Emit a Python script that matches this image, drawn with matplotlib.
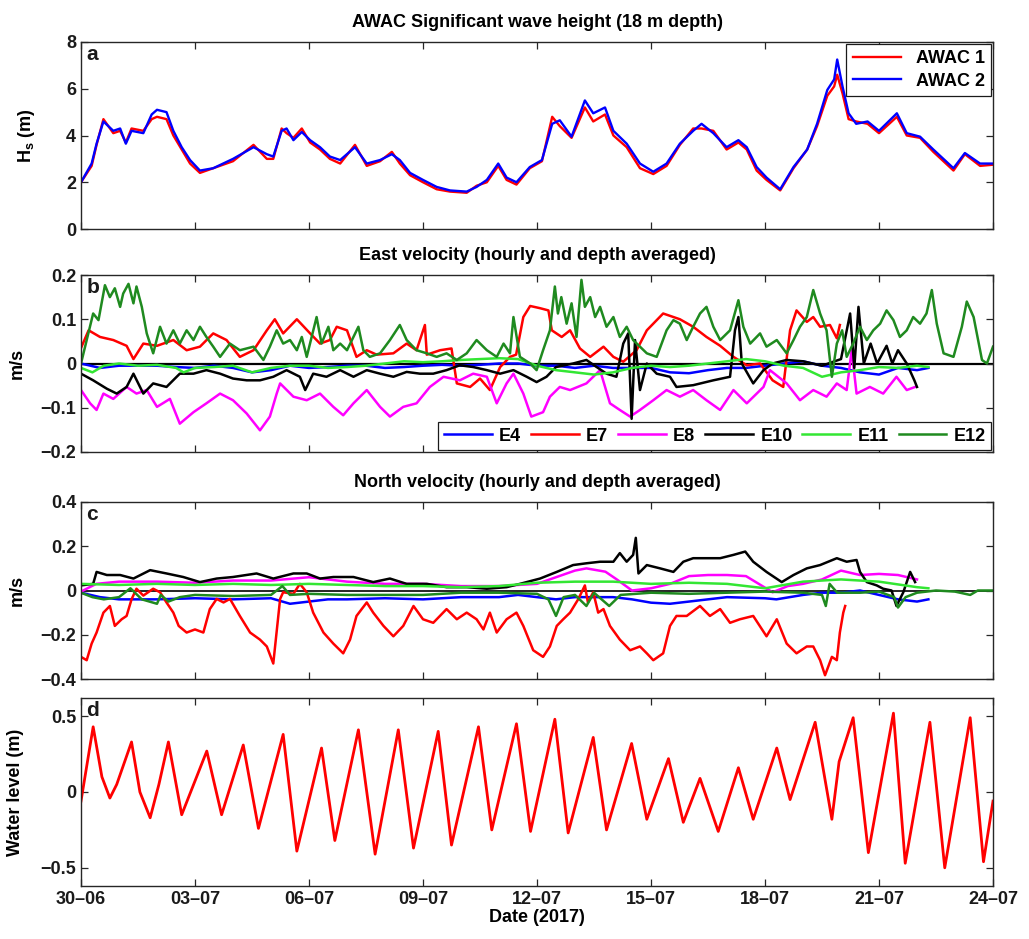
import matplotlib
matplotlib.use("Agg")
import matplotlib.pyplot as plt
from matplotlib.ticker import FixedLocator, FuncFormatter

plt.rcParams['font.family'] = ['Liberation Sans', 'DejaVu Sans']
plt.rcParams['font.weight'] = 'bold'
plt.rcParams['axes.labelweight'] = 'bold'
plt.rcParams['axes.titleweight'] = 'bold'
plt.rcParams['mathtext.fontset'] = 'custom'
plt.rcParams['mathtext.bf'] = 'Liberation Sans:bold'
plt.rcParams['mathtext.rm'] = 'Liberation Sans:bold'
plt.rcParams['mathtext.it'] = 'Liberation Sans:bold'

# ---------------- data (days since 30-06-2017) ----------------
date_ticks = [0, 3, 6, 9, 12, 15, 18, 21, 24]
date_labels = ['30–06', '03–07', '06–07', '09–07', '12–07', '15–07', '18–07', '21–07', '24–07']

# Panel a: significant wave height
t_hs = [0, 0.28, 0.41, 0.59, 0.85, 1.03, 1.18, 1.33, 1.64, 1.86, 2.0, 2.25, 2.43, 2.65, 2.87, 3.13, 3.48, 4.0,
        4.54, 4.89, 5.06, 5.28, 5.41, 5.59, 5.81, 6.03, 6.29, 6.55, 6.82, 7.21, 7.52, 7.87, 8.18, 8.39, 8.66,
        9.0, 9.36, 9.71, 10.15, 10.41, 10.68, 10.98, 11.2, 11.46, 11.81, 12.13, 12.4, 12.6, 12.91, 13.26,
        13.48, 13.79, 14.01, 14.36, 14.71, 15.06, 15.41, 15.76, 16.11, 16.33, 16.64, 16.99, 17.3, 17.52,
        17.78, 18.04, 18.4, 18.75, 19.11, 19.37, 19.64, 19.82, 19.9, 20.04, 20.2, 20.4, 20.7, 21.0, 21.47,
        21.73, 22.08, 22.43, 22.96, 23.26, 23.66, 24.0]
hs_awac2 = [2.0, 2.8, 3.65, 4.6, 4.2, 4.3, 3.65, 4.2, 4.1, 4.9, 5.1, 5.0, 4.2, 3.5, 2.95, 2.5, 2.6, 3.0, 3.5, 3.2,
            3.1, 4.2, 4.3, 3.8, 4.15, 3.8, 3.5, 3.1, 2.95, 3.5, 2.8, 2.95, 3.2, 2.95, 2.4, 2.1, 1.8, 1.65, 1.6,
            1.8, 2.1, 2.8, 2.2, 2.0, 2.65, 2.95, 4.5, 4.65, 3.95, 5.5, 4.95, 5.2, 4.2, 3.65, 2.8, 2.45, 2.8,
            3.65, 4.2, 4.5, 4.1, 3.5, 3.8, 3.5, 2.65, 2.2, 1.7, 2.65, 3.4, 4.5, 5.95, 6.4, 7.25, 6.1, 4.95,
            4.5, 4.6, 4.2, 4.95, 4.1, 3.95, 3.4, 2.6, 3.25, 2.8, 2.8]
hs_awac1 = [2.0, 2.7, 3.6, 4.7, 4.1, 4.2, 3.7, 4.3, 4.2, 4.7, 4.8, 4.7, 4.0, 3.4, 2.8, 2.4, 2.6, 2.9, 3.6, 3.0,
            3.0, 4.3, 4.1, 3.9, 4.3, 3.7, 3.4, 3.0, 2.8, 3.6, 2.7, 2.9, 3.3, 2.8, 2.3, 2.0, 1.7, 1.6, 1.55, 1.85,
            2.0, 2.7, 2.1, 1.9, 2.6, 2.9, 4.8, 4.4, 3.9, 5.2, 4.6, 4.9, 4.0, 3.5, 2.6, 2.35, 2.7, 3.6, 4.3, 4.3,
            4.2, 3.4, 3.7, 3.4, 2.5, 2.1, 1.65, 2.6, 3.4, 4.4, 5.7, 6.1, 6.6, 5.8, 4.7, 4.6, 4.5, 4.1, 4.8, 4.0,
            3.9, 3.3, 2.5, 3.2, 2.7, 2.75]

# Panel b: east velocity
t_e4 = [0, 0.5, 1.0, 1.5, 2.0, 2.5, 3.0, 3.5, 4.0, 4.5, 5.0, 5.5, 6.0, 6.5, 7.0, 7.5, 8.0, 8.5, 9.0, 9.5, 10.0,
        10.5, 11.0, 11.5, 12.0, 12.5, 13.0, 13.5, 14.0, 14.5, 15.0, 15.5, 16.0, 16.5, 17.0, 17.5, 18.0, 18.5,
        19.0, 19.5, 20.0, 20.5, 21.0, 21.5, 22.0, 22.3]
east_e4 = [0, -0.01, -0.005, -0.005, -0.005, -0.008, -0.01, -0.005, -0.01, -0.02, -0.015, -0.005, -0.01, -0.008,
           -0.005, -0.005, -0.01, -0.008, -0.005, -0.003, -0.005, -0.003, 0.0, 0.0, -0.005, -0.005, -0.01, -0.005,
           -0.01, -0.01, -0.01, -0.02, -0.022, -0.015, -0.01, -0.01, -0.005, 0.0, 0.005, -0.005, -0.01, -0.02,
           -0.025, -0.01, -0.015, -0.01]
t_e7 = [0, 0.2, 0.5, 0.85, 1.2, 1.38, 1.64, 2.0, 2.43, 2.78, 3.13, 3.48, 3.83, 4.18, 4.54, 4.89, 5.1, 5.32, 5.68,
        6.03, 6.29, 6.55, 6.73, 7.0, 7.25, 7.52, 7.78, 8.22, 8.57, 8.83, 9.05, 9.1, 9.45, 9.75, 9.89, 10.24, 10.5,
        10.76, 11.03, 11.29, 11.45, 11.64, 11.82, 12.08, 12.3, 12.39, 12.65, 12.87, 13.13, 13.4, 13.75, 14.01,
        14.27, 14.62, 14.89, 15.32, 15.76, 16.11, 16.46, 16.82, 17.17, 17.52, 17.87, 18.2, 18.48, 18.66, 18.83,
        19.1, 19.27, 19.45, 19.71, 19.89, 19.97]
east_e7 = [0.035, 0.075, 0.06, 0.053, 0.04, 0.01, 0.045, 0.04, 0.053, 0.03, 0.038, 0.068, 0.053, 0.015, 0.03, 0.075,
           0.1, 0.068, 0.1, 0.068, 0.045, 0.053, 0.083, 0.075, 0.015, 0.03, 0.02, 0.023, 0.045, 0.03, 0.087, 0.02,
           0.03, 0.034, -0.045, -0.053, -0.034, -0.06, -0.008, 0.015, 0.02, 0.105, 0.13, 0.125, 0.12, 0.075, 0.06,
           0.075, 0.034, 0.015, 0.038, 0.015, 0.004, 0.03, 0.075, 0.113, 0.1, 0.083, 0.06, 0.04, 0.015, -0.004, 0,
           -0.038, -0.053, 0.075, 0.12, 0.094, 0.105, 0.083, 0.087, 0.057, 0.087]
t_e8 = [0, 0.24, 0.41, 0.59, 0.85, 1.2, 1.46, 1.73, 2.0, 2.34, 2.6, 2.96, 3.3, 3.66, 4.0, 4.36, 4.71, 4.97, 5.15,
        5.24, 5.59, 5.94, 6.29, 6.64, 6.9, 7.17, 7.52, 7.87, 8.13, 8.48, 8.83, 9.18, 9.54, 9.97, 10.32, 10.68,
        10.94, 11.2, 11.38, 11.64, 11.85, 12.16, 12.34, 12.6, 12.87, 13.3, 13.66, 13.92, 14.18, 14.45, 14.71,
        15.06, 15.41, 15.76, 16.11, 16.46, 16.82, 17.17, 17.52, 17.96, 18.13, 18.57, 18.92, 19.27, 19.62, 19.89,
        20.15, 20.28, 20.41, 20.76, 21.11, 21.46, 21.73, 21.95]
east_e8 = [-0.06, -0.09, -0.105, -0.068, -0.08, -0.053, -0.068, -0.06, -0.098, -0.08, -0.136, -0.11, -0.09, -0.068,
           -0.083, -0.113, -0.151, -0.12, -0.068, -0.045, -0.075, -0.083, -0.068, -0.098, -0.117, -0.09, -0.06,
           -0.098, -0.12, -0.098, -0.09, -0.053, -0.03, -0.038, -0.023, -0.03, -0.09, -0.045, -0.023, -0.068,
           -0.12, -0.11, -0.075, -0.053, -0.06, -0.045, -0.015, -0.09, -0.105, -0.12, -0.105, -0.083, -0.06,
           -0.075, -0.06, -0.083, -0.105, -0.06, -0.09, -0.053, -0.015, -0.045, -0.083, -0.06, -0.075, -0.045,
           -0.06, 0.03, -0.068, -0.053, -0.068, -0.03, -0.06, -0.053]
t_e10 = [0, 0.32, 0.68, 0.94, 1.2, 1.38, 1.64, 1.9, 2.25, 2.6, 2.96, 3.3, 3.66, 4.0, 4.36, 4.71, 5.06, 5.41, 5.76,
         5.9, 6.11, 6.46, 6.82, 7.17, 7.52, 7.87, 8.22, 8.57, 8.92, 9.27, 9.62, 9.97, 10.32, 10.68, 11.03, 11.38,
         11.73, 11.99, 12.25, 12.5, 12.95, 13.3, 13.57, 13.83, 14.09, 14.27, 14.4, 14.49, 14.58, 14.71, 14.89,
         15.15, 15.5, 15.67, 16.11, 16.64, 17.08, 17.21, 17.3, 17.39, 17.69, 17.96, 18.2, 18.57, 19.0, 19.5, 20.0,
         20.24, 20.35, 20.46, 20.6, 20.78, 20.95, 21.2, 21.35, 21.5, 21.73, 21.93, 22.0]
east_e10 = [-0.023, -0.038, -0.057, -0.068, -0.053, -0.023, -0.068, -0.045, -0.053, -0.023, -0.023, -0.015, -0.023,
            -0.034, -0.038, -0.038, -0.03, -0.015, -0.03, -0.06, -0.023, -0.03, -0.015, -0.03, -0.015, -0.023,
            -0.03, -0.019, -0.023, -0.023, -0.015, -0.004, -0.008, -0.015, -0.023, -0.015, -0.03, -0.042, -0.03,
            -0.008, 0, 0.008, -0.008, -0.023, -0.03, 0.045, 0.068, -0.125, 0.053, -0.06, 0, -0.023, -0.03, -0.053,
            -0.049, -0.038, -0.03, 0.075, 0.105, 0, -0.045, -0.015, 0, 0.008, 0.005, -0.005, 0.01, 0.113, -0.01,
            0.128, 0.0, 0.045, 0.0, 0.04, 0.0, 0.03, 0.0, -0.038, -0.053]
t_e11 = [0, 0.3, 0.6, 1.0, 1.5, 2.0, 2.5, 2.7, 3.0, 3.5, 4.0, 4.5, 5.0, 5.5, 6.0, 6.5, 7.0, 7.5, 8.0, 8.5, 9.0,
         9.5, 10.0, 10.5, 11.0, 11.5, 12.0, 12.5, 13.0, 13.5, 14.0, 14.5, 15.0, 15.5, 16.0, 16.5, 17.0, 17.5,
         18.0, 18.5, 19.0, 19.5, 20.0, 20.5, 21.0, 21.5, 22.0, 22.3]
east_e11 = [-0.01, -0.02, -0.005, 0.0, -0.005, -0.003, -0.01, -0.02, -0.01, -0.008, -0.005, -0.02, -0.01, -0.005,
            -0.005, -0.01, -0.008, -0.005, 0.0, 0.005, 0.003, 0.005, 0.008, 0.01, 0.012, 0.01, -0.005, -0.015,
            -0.02, -0.025, -0.02, -0.01, -0.005, -0.008, -0.005, 0.0, 0.005, 0.01, 0.005, -0.005, -0.01, -0.03,
            -0.02, -0.015, -0.008, -0.01, -0.005, -0.008]
t_e12 = [0, 0.15, 0.32, 0.46, 0.63, 0.76, 0.89, 1.03, 1.11, 1.25, 1.38, 1.46, 1.6, 1.73, 1.9, 2.08, 2.25, 2.43,
         2.6, 2.78, 2.96, 3.13, 3.3, 3.48, 3.66, 3.92, 4.18, 4.54, 4.8, 4.97, 5.15, 5.32, 5.5, 5.68, 5.81, 5.94,
         6.07, 6.2, 6.33, 6.51, 6.64, 6.82, 7.0, 7.17, 7.3, 7.43, 7.6, 7.87, 8.13, 8.39, 8.57, 8.83, 9.1, 9.36,
         9.62, 9.89, 10.15, 10.41, 10.68, 10.94, 11.12, 11.29, 11.38, 11.55, 11.82, 11.99, 12.16, 12.34, 12.47,
         12.55, 12.64, 12.78, 12.91, 13.04, 13.17, 13.26, 13.4, 13.53, 13.66, 13.83, 14.01, 14.18, 14.36, 14.53,
         14.71, 14.89, 15.15, 15.41, 15.59, 15.76, 15.94, 16.11, 16.29, 16.46, 16.64, 16.82, 17.08, 17.3, 17.43,
         17.61, 17.87, 18.04, 18.31, 18.57, 18.75, 18.92, 19.1, 19.27, 19.45, 19.62, 19.76, 19.89, 20.03, 20.15,
         20.32, 20.5, 20.68, 20.85, 21.03, 21.2, 21.38, 21.55, 21.73, 21.9, 22.08, 22.25, 22.39, 22.52, 22.7,
         22.96, 23.18, 23.31, 23.49, 23.71, 23.84, 24.0]
east_e12 = [0, 0.053, 0.113, 0.098, 0.177, 0.15, 0.17, 0.128, 0.158, 0.18, 0.136, 0.174, 0.128, 0.068, 0.023, 0.083,
            0.045, 0.075, 0.045, 0.075, 0.053, 0.083, 0.06, 0.038, 0.015, 0.045, 0.03, 0.038, 0.008, 0.038, 0.075,
            0.045, 0.053, 0.03, 0.06, 0.015, 0.06, 0.105, 0.045, 0.083, 0.03, 0.045, 0.03, 0.06, 0.083, 0.03,
            0.015, 0.023, 0.053, 0.087, 0.053, 0.03, 0.023, 0.015, 0.023, 0.008, 0.023, 0.053, 0.03, 0.015, 0.045,
            0.023, 0.105, 0.015, 0.0, -0.015, 0.03, 0.075, 0.174, 0.113, 0.15, 0.09, 0.136, 0.06, 0.189, 0.128,
            0.15, 0.105, 0.128, 0.083, 0.105, 0.06, 0.083, 0.053, 0.038, 0.023, 0.015, 0.075, 0.098, 0.09, 0.053,
            0.083, 0.113, 0.128, 0.083, 0.053, 0.075, 0.143, 0.083, 0.045, 0.068, 0.038, 0.053, 0.023, 0.053,
            0.083, 0.105, 0.166, 0.113, 0.075, -0.03, 0.045, 0.075, 0.015, 0.045, 0.083, 0.053, 0.075, 0.09, 0.12,
            0.098, 0.06, 0.075, 0.105, 0.09, 0.113, 0.166, 0.09, 0.023, 0.015, 0.083, 0.14, 0.105, 0.008, 0.0,
            0.038]

# Panel c: north velocity
t_n4 = [0, 0.5, 1, 2, 3, 4, 5, 5.5, 6, 6.5, 7, 8, 9, 10, 11, 11.5, 12, 12.5, 13, 14, 14.5, 15, 15.5, 16, 17, 18,
        18.3, 19, 19.5, 20, 20.5, 21, 21.5, 22, 22.3]
north_e4 = [-0.01, -0.03, -0.04, -0.04, -0.035, -0.04, -0.035, -0.06, -0.05, -0.04, -0.04, -0.035, -0.04, -0.03,
            -0.03, -0.02, -0.03, -0.04, -0.03, -0.03, -0.04, -0.055, -0.06, -0.05, -0.03, -0.035, -0.04, -0.02,
            -0.01, -0.01, 0.0, -0.02, -0.04, -0.05, -0.04]
t_n7 = [0, 0.15, 0.28, 0.41, 0.59, 0.76, 0.89, 1.07, 1.2, 1.33, 1.46, 1.64, 1.9, 2.08, 2.25, 2.43, 2.57, 2.78, 3.0,
        3.22, 3.39, 3.57, 3.75, 3.92, 4.18, 4.45, 4.71, 4.89, 5.06, 5.24, 5.32, 5.59, 5.76, 5.94, 6.11, 6.38,
        6.64, 6.9, 7.08, 7.25, 7.52, 7.69, 7.96, 8.22, 8.48, 8.75, 9.0, 9.27, 9.62, 9.89, 10.15, 10.41, 10.59,
        10.76, 10.94, 11.2, 11.46, 11.64, 11.9, 12.16, 12.34, 12.52, 12.69, 12.87, 13.09, 13.26, 13.34, 13.48,
        13.61, 13.75, 13.92, 14.18, 14.45, 14.71, 14.89, 15.06, 15.32, 15.5, 15.67, 15.94, 16.29, 16.55, 16.82,
        17.08, 17.34, 17.69, 18.04, 18.31, 18.57, 18.83, 19.1, 19.27, 19.45, 19.58, 19.76, 19.89, 19.97, 20.06,
        20.11]
north_e7 = [-0.3, -0.315, -0.24, -0.19, -0.1, -0.07, -0.16, -0.13, -0.115, -0.04, 0.008, -0.023, 0.008, -0.008,
            -0.054, -0.1, -0.16, -0.19, -0.176, -0.19, -0.084, -0.038, -0.054, -0.038, -0.115, -0.19, -0.222,
            -0.253, -0.33, -0.038, -0.008, -0.015, 0.03, -0.008, -0.1, -0.19, -0.24, -0.284, -0.222, -0.115,
            -0.054, -0.1, -0.16, -0.207, -0.16, -0.07, -0.13, -0.146, -0.084, -0.13, -0.1, -0.13, -0.176, -0.1,
            -0.19, -0.13, -0.1, -0.16, -0.27, -0.3, -0.253, -0.16, -0.13, -0.1, -0.038, 0.023, -0.054, -0.008,
            -0.1, -0.084, -0.16, -0.222, -0.27, -0.253, -0.284, -0.315, -0.284, -0.16, -0.115, -0.115, -0.07,
            -0.115, -0.084, -0.146, -0.13, -0.115, -0.207, -0.13, -0.24, -0.284, -0.253, -0.253, -0.315, -0.383,
            -0.3, -0.315, -0.19, -0.1, -0.07]
t_n8 = [0, 0.4, 1, 2, 3, 4, 5, 6, 7, 8, 9, 10, 11, 12, 12.5, 13, 13.3, 13.8, 14.1, 14.5, 15, 15.5, 16, 16.5, 17,
        17.5, 18.2, 18.6, 19, 19.5, 20, 20.5, 21, 21.5, 22]
north_e8 = [-0.005, 0.03, 0.04, 0.04, 0.035, 0.045, 0.045, 0.06, 0.04, 0.03, 0.03, 0.02, 0.02, 0.03, 0.06, 0.09,
            0.1, 0.085, 0.05, 0.0, 0.01, 0.03, 0.065, 0.07, 0.07, 0.065, -0.008, 0.02, 0.03, 0.05, 0.09, 0.07,
            0.075, 0.07, 0.05]
t_n10 = [0, 0.32, 0.41, 0.68, 1.03, 1.38, 1.82, 2.25, 2.69, 3.13, 3.57, 4.0, 4.62, 5.06, 5.59, 5.94, 6.29, 6.64,
         7.17, 7.69, 8.13, 8.57, 9.1, 9.62, 10.15, 10.68, 11.2, 11.55, 12.08, 12.52, 12.95, 13.3, 13.66, 14.01,
         14.18, 14.36, 14.53, 14.6, 14.67, 14.89, 15.24, 15.59, 15.85, 16.11, 16.46, 16.82, 17.17, 17.48, 17.69,
         18.04, 18.44, 18.75, 19.1, 19.45, 19.89, 20.15, 20.41, 20.5, 20.68, 20.94, 21.11, 21.33, 21.46, 21.64,
         21.82, 21.95]
north_e10 = [0.023, 0.03, 0.084, 0.07, 0.07, 0.054, 0.092, 0.077, 0.061, 0.038, 0.054, 0.061, 0.077, 0.054, 0.077,
             0.077, 0.054, 0.061, 0.061, 0.038, 0.054, 0.03, 0.03, 0.015, 0.015, 0.008, 0.015, 0.03, 0.054, 0.084,
             0.115, 0.123, 0.13, 0.13, 0.169, 0.13, 0.161, 0.238, 0.077, 0.115, 0.1, 0.084, 0.13, 0.146, 0.146,
             0.146, 0.161, 0.176, 0.13, 0.084, 0.038, 0.07, 0.1, 0.115, 0.146, 0.13, 0.138, 0.084, 0.038, 0.023,
             0.008, 0.0, -0.07, -0.008, 0.084, 0.038]
t_n11 = [0, 1, 2, 3, 4, 5, 6, 7, 8, 9, 10, 11, 12, 13, 14, 15, 16, 17, 18, 19, 20, 21, 22, 22.3]
north_e11 = [0.03, 0.025, 0.03, 0.025, 0.03, 0.025, 0.03, 0.025, 0.02, 0.02, 0.015, 0.02, 0.035, 0.04, 0.04, 0.03,
             0.035, 0.03, 0.01, 0.04, 0.05, 0.04, 0.015, 0.01]
t_n12 = [0, 0.3, 0.6, 1.0, 1.3, 1.6, 2.0, 2.1, 2.3, 2.6, 3.0, 4.0, 5.0, 5.3, 5.5, 6.0, 7.0, 8.0, 9.0, 10.0, 11.0,
         12.0, 12.3, 12.5, 12.7, 13.0, 13.3, 13.5, 13.9, 14.2, 15.0, 16.0, 17.0, 18.0, 19.0, 19.5, 19.6, 19.7,
         19.9, 20.5, 21.0, 21.4, 21.5, 21.7, 22.0, 22.5, 23.0, 23.4, 23.6, 24.0]
north_e12 = [-0.01, -0.03, -0.04, -0.03, 0.01, -0.04, -0.06, -0.02, -0.05, -0.03, -0.02, -0.025, -0.02, 0.02,
             -0.02, -0.015, -0.02, -0.02, -0.02, -0.01, -0.01, -0.015, -0.04, -0.115, -0.03, -0.02, -0.07, -0.01,
             -0.07, -0.02, -0.01, -0.015, -0.01, -0.005, -0.01, -0.02, -0.07, 0.03, -0.01, -0.01, -0.005, -0.03,
             -0.077, -0.03, -0.01, 0.0, -0.005, -0.02, 0.0, 0.0]

# Panel d: water level
t_wl = [0, 0.32, 0.55, 0.76, 0.94, 1.33, 1.55, 1.82, 2.05, 2.3, 2.65, 3.31, 3.7, 4.27, 4.67, 5.32, 5.68, 6.33,
        6.68, 7.3, 7.74, 8.35, 8.75, 9.4, 9.75, 10.46, 10.81, 11.46, 11.83, 12.47, 12.82, 13.48, 13.83, 14.49,
        14.89, 15.46, 15.85, 16.29, 16.77, 17.3, 17.69, 18.31, 18.66, 19.32, 19.76, 19.95, 20.32, 20.72, 21.38,
        21.69, 22.34, 22.73, 23.4, 23.75, 24.0]
water_level = [-0.06, 0.43, 0.1, -0.04, 0.05, 0.33, 0.0, -0.17, 0.05, 0.33, -0.15, 0.27, -0.15, 0.31, -0.24,
               0.38, -0.39, 0.29, -0.32, 0.41, -0.41, 0.41, -0.37, 0.4, -0.35, 0.43, -0.25, 0.45, -0.26, 0.48,
               -0.27, 0.36, -0.25, 0.32, -0.18, 0.22, -0.2, 0.09, -0.26, 0.16, -0.18, 0.29, -0.05, 0.46, -0.18,
               0.2, 0.49, -0.4, 0.52, -0.47, 0.46, -0.5, 0.49, -0.46, -0.06]

station_names = ['E4', 'E7', 'E8', 'E10', 'E11', 'E12']
station_colors = ['#0000ff', '#ff0000', '#ff00ff', '#000000', '#33e633', '#1f8a1f']

# ---------------- figure ----------------
W, H = 1029, 939
fig = plt.figure(figsize=(W / 100, H / 100), dpi=100)

def box(top, bottom, left=81, right=993):
    return [left / W, 1 - bottom / H, (right - left) / W, (bottom - top) / H]

ax_a = fig.add_axes(box(42, 229))
ax_b = fig.add_axes(box(275, 452))
ax_c = fig.add_axes(box(502, 679))
ax_d = fig.add_axes(box(698, 886))

def fmt(v, pos):
    s = '%g' % v
    return s.replace('-', '\u2212')

spine_col = '#262626'
for ax in (ax_a, ax_b, ax_c, ax_d):
    ax.set_xlim(0, 24)
    ax.xaxis.set_major_locator(FixedLocator(date_ticks))
    ax.tick_params(direction='in', top=True, right=True, length=5, width=0.9,
                   labelsize=13, colors=spine_col, labelcolor='#1a1a1a')
    for sp in ax.spines.values():
        sp.set_color(spine_col)
        sp.set_linewidth(1.0)
    ax.yaxis.set_major_formatter(FuncFormatter(fmt))
    if ax is not ax_d:
        ax.set_xticklabels([])

# a
ax_a.plot(t_hs, hs_awac1, color='#ff0000', lw=1.7, label='AWAC 1')
ax_a.plot(t_hs, hs_awac2, color='#0000ff', lw=1.7, label='AWAC 2')
ax_a.set_ylim(0, 8)
ax_a.yaxis.set_major_locator(FixedLocator([0, 2, 4, 6, 8]))
ax_a.set_title('AWAC Significant wave height (18 m depth)', fontsize=13, pad=11)
ax_a.set_ylabel(r'$\mathbf{H_s}$ (m)', fontsize=13)
ax_a.yaxis.set_label_coords(-0.048, 0.5)
leg = ax_a.legend(loc='upper right', fontsize=13, frameon=True, fancybox=False, edgecolor='#1a1a1a',
                  framealpha=1, borderaxespad=0.1, handlelength=2.7, labelspacing=0.3, borderpad=0.35)
leg.get_frame().set_linewidth(0.9)

# b
ax_b.axhline(0, color='black', lw=1.6, zorder=1.5)
east_t = [t_e4, t_e7, t_e8, t_e10, t_e11, t_e12]
east_v = [east_e4, east_e7, east_e8, east_e10, east_e11, east_e12]
for tt, vv, nm, cl in zip(east_t, east_v, station_names, station_colors):
    ax_b.plot(tt, vv, color=cl, lw=1.8, label=nm)
ax_b.set_ylim(-0.2, 0.2)
ax_b.yaxis.set_major_locator(FixedLocator([-0.2, -0.1, 0, 0.1, 0.2]))
ax_b.set_title('East velocity (hourly and depth averaged)', fontsize=13, pad=11)
ax_b.set_ylabel('m/s', fontsize=13)
ax_b.yaxis.set_label_coords(-0.061, 0.5)
leg2 = ax_b.legend(loc='lower right', ncol=6, fontsize=13, frameon=True, fancybox=False, edgecolor='#1a1a1a',
                   framealpha=1, borderaxespad=0.1, handlelength=2.65, columnspacing=0.55, handletextpad=0.4,
                   borderpad=0.3)
leg2.get_frame().set_linewidth(0.9)

# c
ax_c.axhline(0, color='black', lw=1.2, zorder=1.5)
north_t = [t_n4, t_n7, t_n8, t_n10, t_n11, t_n12]
north_v = [north_e4, north_e7, north_e8, north_e10, north_e11, north_e12]
for tt, vv, nm, cl in zip(north_t, north_v, station_names, station_colors):
    ax_c.plot(tt, vv, color=cl, lw=1.8, label=nm)
ax_c.set_ylim(-0.4, 0.4)
ax_c.yaxis.set_major_locator(FixedLocator([-0.4, -0.2, 0, 0.2, 0.4]))
ax_c.set_title('North velocity (hourly and depth averaged)', fontsize=13, pad=11)
ax_c.set_ylabel('m/s', fontsize=13)
ax_c.yaxis.set_label_coords(-0.061, 0.5)

# d
ax_d.plot(t_wl, water_level, color='#ff0000', lw=2.0)
ax_d.set_ylim(-0.62, 0.62)
ax_d.yaxis.set_major_locator(FixedLocator([-0.5, 0, 0.5]))
ax_d.set_xticklabels(date_labels)
ax_d.set_ylabel('Water level (m)', fontsize=13)
ax_d.yaxis.set_label_coords(-0.0625, 0.5)
ax_d.set_xlabel('Date (2017)', fontsize=13, labelpad=1)

for ax, letter in zip((ax_a, ax_b, ax_c, ax_d), 'abcd'):
    ax.text(0.006, 0.985, letter, transform=ax.transAxes, ha='left', va='top', fontsize=15,
            fontweight='bold', color='#1a1a1a')

fig.savefig('out.png', dpi=100)
